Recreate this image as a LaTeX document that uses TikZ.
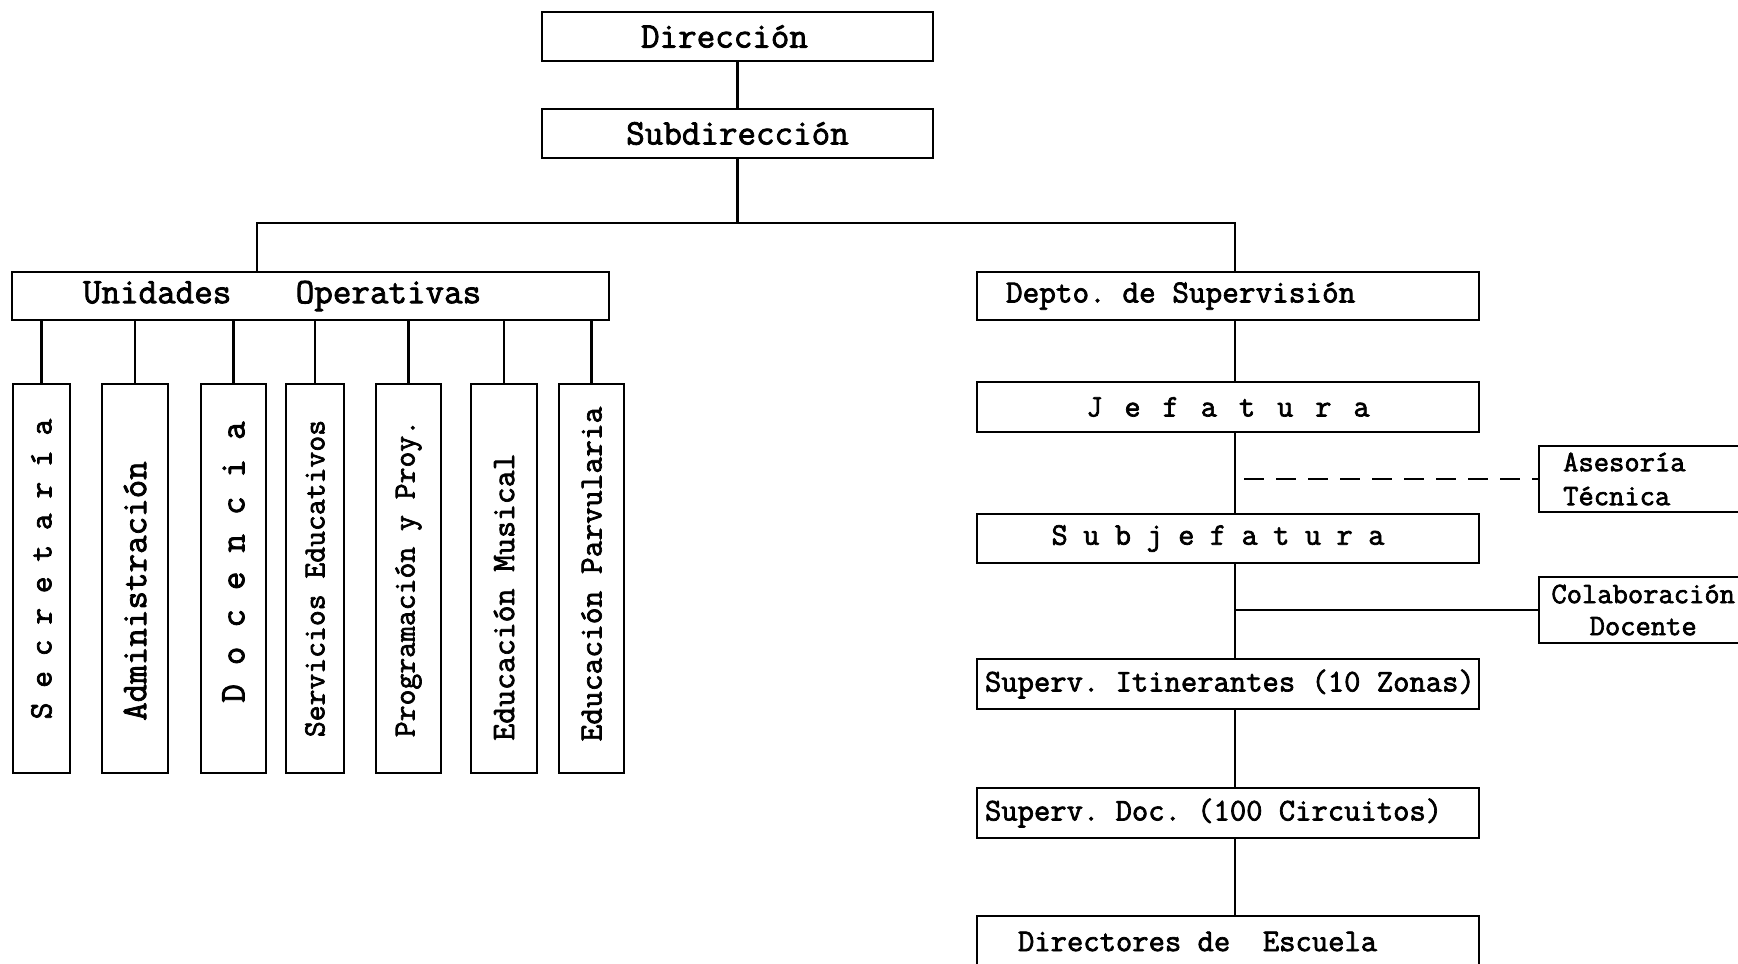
\documentclass[tikz,border=0pt]{standalone}
\usepackage{fontspec}
\setmonofont{Latin Modern Mono}[FakeBold=2.2]
\usepackage{graphicx}
\newlength\lspd
\newcommand\lsp{\hspace{\lspd}}
\newcommand\lbx[2]{\makebox[#1][l]{#2}}
\newcommand\ff[2]{\ttfamily\fontsize{#1}{#2}\selectfont\setbox0\hbox{x}\spaceskip=\wd0\relax\xspaceskip=\wd0\relax}
\begin{document}
\begin{tikzpicture}[x=1pt,y=-1pt,line width=2.4pt,
  box/.style 2 args={draw,line width=2.4pt,inner sep=0pt,minimum width=#1pt,minimum height=#2pt},
  conn/.style={draw,line width=2.4pt},
  dashline/.style={draw,line width=2.4pt,dash pattern=on 20pt off 12pt},
  fA/.style={font=\ff{31.7}{36}},
  fB/.style={font=\ff{36}{40}},
  fS/.style={font=\ff{#1}{36}}]
\useasboundingbox (0,0) rectangle (1738,964);
% top
\node[box={391}{49},fB] (dir) at (737.5,36.5) {Dirección\hspace{26pt}\mbox{}};
\node[box={391}{49},fB] (sub) at (737.5,133.5) {Subdirección};
% left group
\node[box={597}{48},fB] (uo) at (310.5,296) {\lbx{455pt}{Unidades\hspace{64.5pt}Operativas}};
\node[box={57}{389},fS=32.5] (sec) at (41.5,578.5) {\rotatebox{90}{\hspace{19pt}\setlength\lspd{14.8pt}S\lsp e\lsp c\lsp r\lsp e\lsp t\lsp a\lsp r\lsp í\lsp a}};
\node[box={66}{389},fB] (adm) at (135,578.5) {\rotatebox{90}{Administración\hspace{25pt}}};
\node[box={65}{389},fB] (doc) at (233.5,578.5) {\rotatebox{90}{\hspace{33pt}\setlength\lspd{19pt}D\lsp o\lsp c\lsp e\lsp n\lsp c\lsp i\lsp a}};
\node[box={58}{389},fS=30.8] (ser) at (315,578.5) {\rotatebox{90}{Servicios Educativos}};
\node[box={65}{389},fS=30.8] (pro) at (408.5,578.5) {\rotatebox{90}{Programación y Proy.}};
\node[box={66}{389},fS=32.8] (mus) at (504,578.5) {\rotatebox{90}{Educación Musical\hspace{37pt}}};
\node[box={65}{389},fS=32.5] (par) at (591.5,578.5) {\rotatebox{90}{\hspace{9pt}Educación Parvularia}};
% right group
\node[box={502}{48},fS=32.3] (dep) at (1228,296) {\lbx{444pt}{Depto. de Supervisión}};
\node[box={502}{50},fS=31.4] (jef) at (1228,407) {\setlength\lspd{22pt}J\lsp e\lsp f\lsp a\lsp t\lsp u\lsp r\lsp a};
\node[box={502}{49},fS=31.4] (sbj) at (1228,538.5) {\setlength\lspd{15.5pt}S\lsp u\lsp b\lsp j\lsp e\lsp f\lsp a\lsp t\lsp u\lsp r\lsp a\hspace{20pt}\mbox{}};
\node[box={502}{50},fA] (iti) at (1228,684) {\lbx{486pt}{Superv. Itinerantes (10 Zonas)}};
\node[box={502}{50},fA] (sdc) at (1228,813) {\lbx{486pt}{Superv. Doc. (100 Circuitos)}};
\node[box={502}{51},fA] (dre) at (1228,941.5) {\lbx{420pt}{Directores de\ \ Escuela}};
\node[draw,line width=2.4pt,anchor=west,minimum height=66pt,inner ysep=0pt,inner xsep=24pt,text width=192pt,align=left,font=\ff{29.7}{34}] (ase) at (1538,479) {Asesoría\\Técnica};
\node[draw,line width=2.4pt,anchor=west,minimum height=66pt,inner ysep=0pt,inner xsep=8pt,text width=192pt,align=center,font=\ff{29.7}{32}] (col) at (1538,610) {Colaboración\\Docente};
% coordinates
\coordinate (bl) at (257,223);
\coordinate (br) at (1235,223);
\coordinate (sp) at (1235,0);
% connectors
\draw[conn] (dir.south) -- (sub.north);
\draw[conn] (sub.south) -- (sub.south |- bl);
\draw[conn] (bl |- uo.north) -- (bl) -- (br) -- (br |- dep.north);
\foreach \n in {sec,adm,doc,ser,pro,mus,par}{\draw[conn] (\n.north |- uo.south) -- (\n.north);}
\draw[conn] (dep.south -| sp) -- (jef.north -| sp);
\draw[conn] (jef.south -| sp) -- (sbj.north -| sp);
\draw[conn] (sbj.south -| sp) -- (iti.north -| sp);
\draw[conn] (iti.south -| sp) -- (sdc.north -| sp);
\draw[conn] (sdc.south -| sp) -- (dre.north -| sp);
\draw[dashline] ([xshift=9pt]sp |- ase.west) -- (ase.west);
\draw[conn] (sp |- col.west) -- (col.west);
\end{tikzpicture}
\end{document}
